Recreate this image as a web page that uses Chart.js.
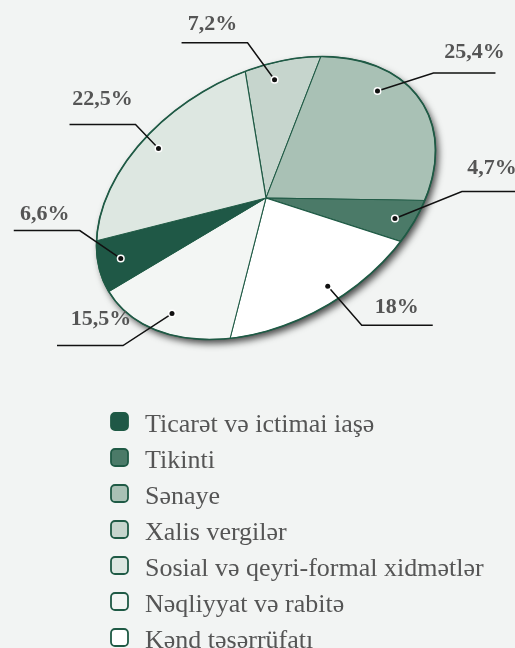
<!DOCTYPE html>
<html>
<head>
<meta charset="utf-8">
<title>Pie</title>
<script src="https://cdn.jsdelivr.net/npm/chart.js@4.4.0/dist/chart.umd.min.js"></script>
<style>
    html, body { margin: 0; padding: 0; background: #f2f4f3; }
    #pie { display: block; }
</style>
</head>
<body>
<canvas id="pie" width="515" height="648"></canvas>
<script>
// categories in legend order
var categories = [
    'Ticarət və ictimai iaşə',
    'Tikinti',
    'Sənaye',
    'Xalis vergilər',
    'Sosial və qeyri-formal xidmətlər',
    'Nəqliyyat və rabitə',
    'Kənd təsərrüfatı'
];
var shares = [6.6, 4.7, 25.4, 7.2, 22.5, 15.5, 18];
// clockwise order of the slices on the pie, starting at the top
var pieOrder = [3, 2, 1, 6, 5, 0, 4];

var sliceColors = ['#1f5846', '#4b7a68', '#a9c1b5', '#c6d5cd', '#dde7e1', '#f3f6f4', '#ffffff'];
var edgeColor = '#1f5a45';
var textColor = '#555';
var serifFont = '"Liberation Serif", Tinos, serif';

// ellipse look of the pie: tilt and half axes
var TILT = -30.7 * Math.PI / 180;
var AXIS_X = 183;
var AXIS_Y = 123.6;

// label placement, per slice in legend order:
// f = where along the slice the dot sits, ex/ey = elbow from dot,
// hx = horizontal run, tx/ty = text centre / baseline from elbow
var labelLayout = [
    { f: 0.50, ex: -41, ey: -28, hx: -66, tx: -35, ty: -11 },
    { f: 0.51, ex: 67, ey: -27, hx: 55, tx: 30, ty: -18 },
    { f: 0.33, ex: 56, ey: -18, hx: 62, tx: 41, ty: -15 },
    { f: 0.40, ex: -27, ey: -37, hx: -66, tx: -35, ty: -13 },
    { f: 0.51, ex: -23, ey: -24, hx: -66, tx: -33, ty: -19 },
    { f: 0.49, ex: -49, ey: 32, hx: -66, tx: -22, ty: -21 },
    { f: 0.43, ex: 34, ey: 39, hx: 71, tx: 35, ty: -12 }
];

// legend block
var LEGEND_X = 111;
var LEGEND_TOP = 413;
var LEGEND_STEP = 36;

function applyTilt(ctx, x, y, r) {
    ctx.translate(x, y);
    ctx.rotate(TILT);
    ctx.scale(AXIS_X / r, AXIS_Y / r);
    ctx.translate(-x, -y);
}

function tiltPoint(cx, cy, ang, frac) {
    var u = Math.cos(ang) * frac * AXIS_X;
    var v = Math.sin(ang) * frac * AXIS_Y;
    return {
        x: cx + u * Math.cos(TILT) - v * Math.sin(TILT),
        y: cy + u * Math.sin(TILT) + v * Math.cos(TILT)
    };
}

var ellipsePlugin = {
    id: 'ellipse',
    beforeDatasetsDraw: function(chart) {
        var arc = chart.getDatasetMeta(0).data[0];
        var ctx = chart.ctx;
        ctx.save();
        applyTilt(ctx, arc.x, arc.y, arc.outerRadius);
        // drop shadow under the whole pie
        ctx.save();
        ctx.shadowColor = 'rgba(0, 0, 0, 0.7)';
        ctx.shadowBlur = 7;
        ctx.shadowOffsetX = 3;
        ctx.shadowOffsetY = 4;
        ctx.beginPath();
        ctx.arc(arc.x, arc.y, arc.outerRadius, 0, Math.PI * 2);
        ctx.fillStyle = edgeColor;
        ctx.fill();
        ctx.restore();
    },
    afterDatasetsDraw: function(chart) {
        var arc = chart.getDatasetMeta(0).data[0];
        var ctx = chart.ctx;
        ctx.restore();
        // outer edge with an even line width
        ctx.save();
        applyTilt(ctx, arc.x, arc.y, arc.outerRadius);
        ctx.beginPath();
        ctx.arc(arc.x, arc.y, arc.outerRadius, 0, Math.PI * 2);
        ctx.restore();
        ctx.lineWidth = 1.7;
        ctx.strokeStyle = edgeColor;
        ctx.stroke();
    }
};

var labelPlugin = {
    id: 'leaderLabels',
    afterDraw: function(chart) {
        var ctx = chart.ctx;
        var meta = chart.getDatasetMeta(0);
        ctx.save();
        meta.data.forEach(function(arc, i) {
            var k = pieOrder[i];
            var lay = labelLayout[k];
            var ang = arc.startAngle + lay.f * (arc.endAngle - arc.startAngle);
            var dot = tiltPoint(arc.x, arc.y, ang, 0.87);
            var ex = dot.x + lay.ex, ey = dot.y + lay.ey;

            ctx.beginPath();
            ctx.moveTo(dot.x, dot.y);
            ctx.lineTo(ex, ey);
            ctx.lineTo(ex + lay.hx, ey);
            ctx.lineWidth = 1.5;
            ctx.strokeStyle = '#111';
            ctx.stroke();

            ctx.beginPath();
            ctx.arc(dot.x, dot.y, 4, 0, Math.PI * 2);
            ctx.fillStyle = '#fff';
            ctx.fill();
            ctx.beginPath();
            ctx.arc(dot.x, dot.y, 2.5, 0, Math.PI * 2);
            ctx.fillStyle = '#111';
            ctx.fill();

            ctx.font = 'bold 22px ' + serifFont;
            ctx.fillStyle = textColor;
            ctx.textAlign = 'center';
            ctx.textBaseline = 'alphabetic';
            ctx.fillText(String(shares[k]).replace('.', ',') + '%', ex + lay.tx, ey + lay.ty);
        });
        ctx.restore();
    }
};

// vertical legend under the pie, in the order of the categories
var legendPlugin = {
    id: 'listLegend',
    afterDraw: function(chart) {
        var ctx = chart.ctx;
        ctx.save();
        ctx.font = '26px ' + serifFont;
        ctx.textAlign = 'left';
        ctx.textBaseline = 'alphabetic';
        categories.forEach(function(name, i) {
            var top = LEGEND_TOP + i * LEGEND_STEP;
            ctx.beginPath();
            ctx.roundRect(LEGEND_X, top, 17, 17, 4);
            ctx.fillStyle = sliceColors[i];
            ctx.fill();
            ctx.lineWidth = 1.8;
            ctx.strokeStyle = edgeColor;
            ctx.stroke();
            ctx.fillStyle = textColor;
            ctx.fillText(name, LEGEND_X + 34, top + 18.5);
        });
        ctx.restore();
    }
};

new Chart(document.getElementById('pie'), {
    type: 'pie',
    data: {
        labels: pieOrder.map(function(k) { return categories[k]; }),
        datasets: [{
            data: pieOrder.map(function(k) { return shares[k]; }),
            backgroundColor: pieOrder.map(function(k) { return sliceColors[k]; }),
            borderColor: edgeColor,
            borderWidth: 1.2,
            clip: false
        }]
    },
    options: {
        responsive: false,
        animation: false,
        events: [],
        devicePixelRatio: 1,
        rotation: 14.8,
        radius: 183,
        layout: {
            padding: { left: 83, right: 66, top: 15, bottom: 267 }
        },
        plugins: {
            legend: { display: false },
            tooltip: { enabled: false }
        }
    },
    plugins: [ellipsePlugin, labelPlugin, legendPlugin]
});
</script>
</body>
</html>
